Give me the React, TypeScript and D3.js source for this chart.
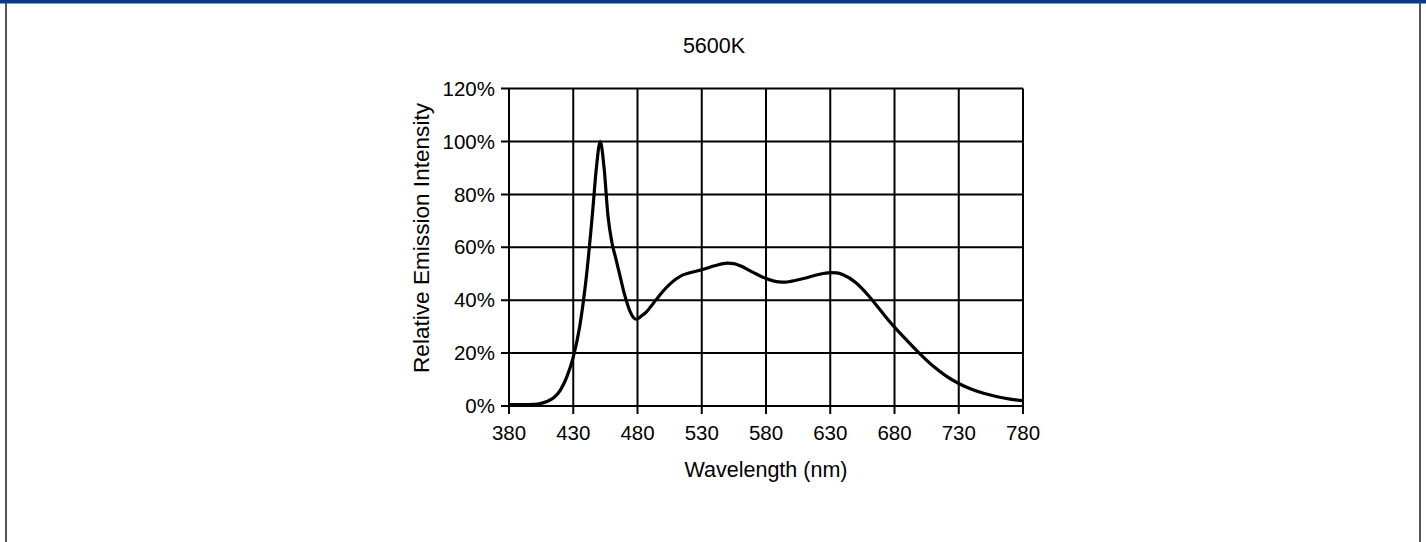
import React from 'react';
import * as d3 from 'd3';

// spectrum (nm, % relative intensity)
const wavelengths = [380, 390, 400, 405, 410, 415, 420, 425, 430, 435, 440, 445, 448, 451, 454, 457, 460, 463, 466, 470, 474, 479, 483, 487, 491, 495, 500, 505, 510, 515, 520, 530, 540, 550, 555, 560, 570, 580, 590, 595, 600, 610, 620, 630, 635, 640, 650, 660, 670, 680, 690, 700, 710, 720, 730, 740, 750, 760, 770, 780];
const intensity = [0.5, 0.5, 0.6, 1.0, 1.8, 3.2, 6, 11, 18.5, 30, 48, 73, 90, 100, 90, 72, 62, 56, 50, 42, 36, 32.8, 34, 35.6, 38, 40.5, 43.5, 46, 48, 49.5, 50.3, 51.5, 53, 54, 53.8, 53, 50.5, 48.2, 46.9, 46.8, 47.2, 48.3, 49.6, 50.4, 50.3, 49.6, 46.6, 41.6, 35.6, 29.8, 24.6, 19.6, 15.1, 11.4, 8.5, 6.3, 4.7, 3.5, 2.6, 2.0];

const xTicks = [380, 430, 480, 530, 580, 630, 680, 730, 780];
const yTicks = [0, 20, 40, 60, 80, 100, 120];

const title = '5600K';
const xLabel = 'Wavelength (nm)';
const yLabel = 'Relative Emission Intensity';

const W = 1426;
const H = 542;
const left = 509, right = 1023, top = 88.6, bottom = 406;
const font = '"Liberation Sans", Arial, sans-serif';

export default function App() {
  const x = d3.scaleLinear().domain([380, 780]).range([left, right]);
  const y = d3.scaleLinear().domain([0, 120]).range([bottom, top]);

  const pts: [number, number][] = wavelengths.map((w, i) => [w, intensity[i]]);
  const line = d3.line<[number, number]>()
    .x(d => x(d[0]))
    .y(d => y(d[1]))
    .curve(d3.curveMonotoneX);

  return (
    <svg width={W} height={H} style={{ position: 'absolute', left: 0, top: 0, background: '#fff' }}>
      {/* frame */}
      <rect x={0} y={0} width={W} height={3} fill="#0b3a7e" />
      <line x1={0} x2={W} y1={3.5} y2={3.5} stroke="#9a9a9a" strokeWidth={1} />
      <rect x={5} y={3} width={2} height={H} fill="#555" />
      <rect x={1419} y={3} width={2} height={H} fill="#555" />

      <text x={714} y={53} textAnchor="middle" fontFamily={font} fontSize={21.5}>{title}</text>

      <g stroke="#000" strokeWidth={2}>
        {yTicks.map(t => (
          <line key={'y' + t} x1={left - 8} x2={right} y1={y(t)} y2={y(t)} />
        ))}
        {xTicks.map(t => (
          <line key={'x' + t} x1={x(t)} x2={x(t)} y1={top} y2={bottom + 8} />
        ))}
      </g>

      <path d={line(pts) || ''} fill="none" stroke="#000" strokeWidth={3.2} strokeLinejoin="round" />

      <g fontFamily={font} fontSize={20.5} fill="#000">
        {yTicks.map(t => (
          <text key={'yl' + t} x={left - 14} y={y(t)} dy="0.35em" textAnchor="end">{t + '%'}</text>
        ))}
        {xTicks.map(t => (
          <text key={'xl' + t} x={x(t)} y={bottom + 34} textAnchor="middle">{t}</text>
        ))}
      </g>

      <text x={(left + right) / 2} y={477} textAnchor="middle" fontFamily={font} fontSize={21.5}>{xLabel}</text>
      <text transform="translate(429, 238) rotate(-90)" textAnchor="middle" fontFamily={font} fontSize={22.6}>{yLabel}</text>
    </svg>
  );
}
